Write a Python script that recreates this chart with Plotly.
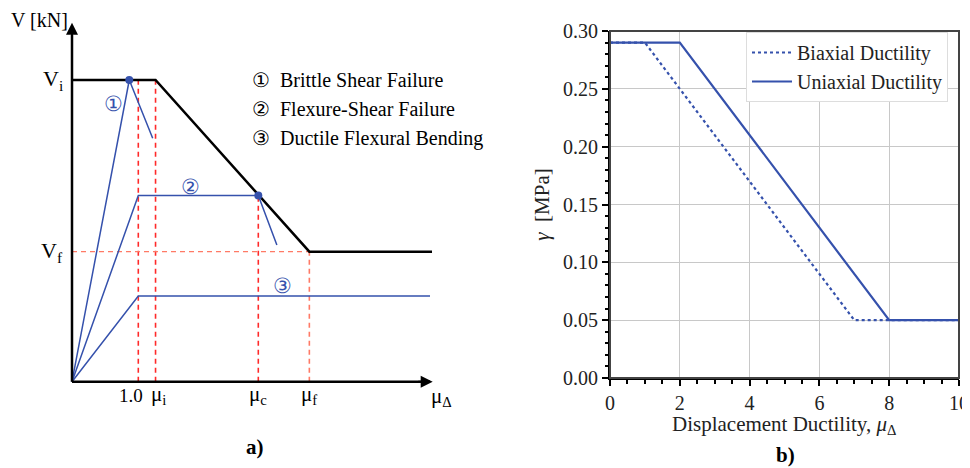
import plotly.graph_objects as go

# ---------------- Panel b data ----------------
biaxial_x = [0, 1, 7, 10]
biaxial_y = [0.29, 0.29, 0.05, 0.05]
uniaxial_x = [0, 2, 8, 10]
uniaxial_y = [0.29, 0.29, 0.05, 0.05]
x_ticks_b = [0, 2, 4, 6, 8, 10]
y_ticks_b = [0.00, 0.05, 0.10, 0.15, 0.20, 0.25, 0.30]

# ---------------- Panel a (schematic, arbitrary units) ----------------
MU_1, MU_I, MU_C, MU_F, MU_END = 1.0, 1.26, 2.81, 3.58, 5.43
V_I, V_F = 1.0, 0.431
envelope_x = [0, MU_I, MU_F, MU_END]
envelope_y = [V_I, V_I, V_F, V_F]
curve1_x = [0, 0.864, 1.217]
curve1_y = [0, V_I, 0.807]
curve2_x = [0, MU_1, MU_C, 3.09]
curve2_y = [0, 0.617, 0.617, 0.453]
curve3_x = [0, MU_1, 5.40]
curve3_y = [0, 0.284, 0.284]
peak_x = [0.864, MU_C]
peak_y = [V_I, 0.617]
x_mark_labels = ["1.0", "μ<sub>i</sub>", "μ<sub>c</sub>", "μ<sub>f</sub>"]
legend_a = ["①  Brittle Shear Failure", "②  Flexure-Shear Failure", "③  Ductile Flexural Bending"]

BLUE = "#3551ac"
RED = "#ff2a2a"
SALMON = "#ff7a66"
FONT = "Liberation Serif"

# page has an 8px body margin; figure sized to fit the 970x468 window
W, H = 962, 460
OFF = 8                       # body margin offset (px)
def fy(page_y):               # page pixel row -> paper fraction (from bottom)
    return 1 - (page_y - OFF) / H
def fx(page_x):
    return (page_x - OFF) / W

# schematic axis scaling (px per unit) and origin (page px)
SX, SY = 66.3, 301.7
OX, OY = 72, 381.7
x2_min = -(OX - OFF) / SX
x2_max = x2_min + (W * 0.5) / SX
y2_min = -(H - (OY - OFF)) / SY
y2_max = y2_min + H / SY

fig = go.Figure()

# ---- panel a traces ----
def la(x, y, color, width, dash="solid"):
    fig.add_trace(go.Scatter(x=x, y=y, mode="lines", xaxis="x2", yaxis="y2",
                             line=dict(color=color, width=width, dash=dash),
                             showlegend=False, hoverinfo="skip"))

# red dashed guides
la([MU_1, MU_1], [0, V_I], RED, 1.6, "5px,4px")
la([MU_I, MU_I], [0, V_I], RED, 1.6, "5px,4px")
la([MU_C, MU_C], [0, peak_y[1]], RED, 1.6, "5px,4px")
la([MU_F, MU_F], [0, V_F], SALMON, 1.6, "5px,4px")
la([0, MU_F], [V_F, V_F], SALMON, 1.4, "5px,4px")

# blue curves
la(curve1_x, curve1_y, BLUE, 1.5)
la(curve2_x, curve2_y, BLUE, 1.5)
la(curve3_x, curve3_y, BLUE, 1.5)
# envelope
la(envelope_x, envelope_y, "black", 2.5)
# axes of schematic
la([0, 5.40], [0, 0], "black", 2.5)
la([0, 0], [0, 1.15], "black", 2.5)
fig.add_trace(go.Scatter(x=peak_x, y=peak_y, mode="markers", xaxis="x2", yaxis="y2",
                         marker=dict(color=BLUE, size=8), showlegend=False, hoverinfo="skip"))

# ---- panel b traces ----
fig.add_trace(go.Scatter(x=biaxial_x, y=biaxial_y, mode="lines", name="Biaxial Ductility",
                         line=dict(color=BLUE, width=2.2, dash="dot")))
fig.add_trace(go.Scatter(x=uniaxial_x, y=uniaxial_y, mode="lines", name="Uniaxial Ductility",
                         line=dict(color=BLUE, width=2.2)))

ann = []
# arrows for schematic axes
ann.append(dict(x=5.44, y=0, ax=5.2, ay=0, xref="x2", yref="y2", axref="x2", ayref="y2",
                showarrow=True, arrowhead=2, arrowsize=1.2, arrowwidth=2, arrowcolor="black", text=""))
ann.append(dict(x=0, y=1.19, ax=0, ay=1.1, xref="x2", yref="y2", axref="x2", ayref="y2",
                showarrow=True, arrowhead=2, arrowsize=1.2, arrowwidth=2, arrowcolor="black", text=""))

def ta(x, y, text, size=20, xanchor="center", color="black", yanchor="middle"):
    ann.append(dict(x=x, y=y, xref="x2", yref="y2", text=text, showarrow=False,
                    xanchor=xanchor, yanchor=yanchor, font=dict(family=FONT, size=size, color=color)))

ta(-0.03, 1.200, "V [kN]", 20, "right")
ta(-0.11, V_I, "V<sub>i</sub>", 22, "right")
ta(-0.11, V_F, "V<sub>f</sub>", 22, "right")
ta(0.89, -0.045, x_mark_labels[0], 19)
ta(1.30, -0.045, x_mark_labels[1], 21)
ta(2.81, -0.045, x_mark_labels[2], 21)
ta(3.58, -0.045, x_mark_labels[3], 21)
ta(5.57, -0.05, "μ<sub>Δ</sub>", 21)
ta(0.62, 0.92, "①", 21, color=BLUE)
ta(1.78, 0.645, "②", 21, color=BLUE)
ta(3.18, 0.317, "③", 21, color=BLUE)
ta(2.68, 1.0, legend_a[0], 20, "left")
ta(2.68, 0.903, legend_a[1], 20, "left")
ta(2.68, 0.806, legend_a[2], 20, "left")

ann.append(dict(x=fx(255), y=fy(447), xref="paper", yref="paper", text="<b>a)</b>",
                xanchor="center", yanchor="middle",
                showarrow=False, font=dict(family=FONT, size=21, color="black")))
ann.append(dict(x=fx(785), y=fy(455), xref="paper", yref="paper", text="<b>b)</b>",
                xanchor="center", yanchor="middle",
                showarrow=False, font=dict(family=FONT, size=21, color="black")))
# x-axis title of panel b
ann.append(dict(x=fx(784.5), y=fy(425), xref="paper", yref="paper",
                text="Displacement Ductility, <i>μ</i><sub>Δ</sub>",
                xanchor="center", yanchor="middle",
                showarrow=False, font=dict(family=FONT, size=21, color="#222")))

fig.update_layout(
    width=W, height=H,
    margin=dict(l=0, r=0, t=0, b=0, autoexpand=False),
    paper_bgcolor="white", plot_bgcolor="white",
    font=dict(family=FONT, size=19, color="#222"),
    annotations=ann,
    xaxis=dict(domain=[fx(610), fx(959)], range=[0, 10], tickvals=x_ticks_b,
               showgrid=True, gridcolor="#c8c8c8", gridwidth=1,
               showline=True, linecolor="black", linewidth=2,
               ticks="outside", ticklen=6, tickwidth=1.5, tickcolor="black",
               minor=dict(dtick=0.5, ticks="outside", ticklen=3.5, tickcolor="black", showgrid=False),
               zeroline=False, tickfont=dict(size=20, color="#222"), automargin=False,
               ticklabeloverflow="allow", anchor="y"),
    yaxis=dict(domain=[fy(378), fy(31)], range=[0, 0.30], tickvals=y_ticks_b, tickformat=".2f",
               showgrid=True, gridcolor="#c8c8c8", gridwidth=1,
               showline=True, linecolor="black", linewidth=2,
               ticks="outside", ticklen=6, tickwidth=1.5, tickcolor="black",
               minor=dict(dtick=0.01, ticks="outside", ticklen=3.5, tickcolor="black", showgrid=False),
               zeroline=False, tickfont=dict(size=20, color="#222"), automargin=False,
               title=dict(text="<i>γ</i>  [MPa]", font=dict(size=21, color="#222"), standoff=8),
               anchor="x"),
    xaxis2=dict(domain=[0, 0.5], range=[x2_min, x2_max], visible=False, anchor="y2", automargin=False),
    yaxis2=dict(domain=[0, 1], range=[y2_min, y2_max], visible=False, anchor="x2", automargin=False),
    legend=dict(x=fx(948), y=fy(32), xanchor="right", yanchor="top",
                bgcolor="white", bordercolor="#dddddd", borderwidth=1,
                font=dict(family=FONT, size=20, color="#222"), itemwidth=40,
                tracegroupgap=0),
    shapes=[dict(type="rect", xref="x domain", yref="y domain", x0=0, x1=1, y0=0, y1=1,
                 line=dict(color="#444", width=2), layer="above")],
)

fig.write_html("out.html")
